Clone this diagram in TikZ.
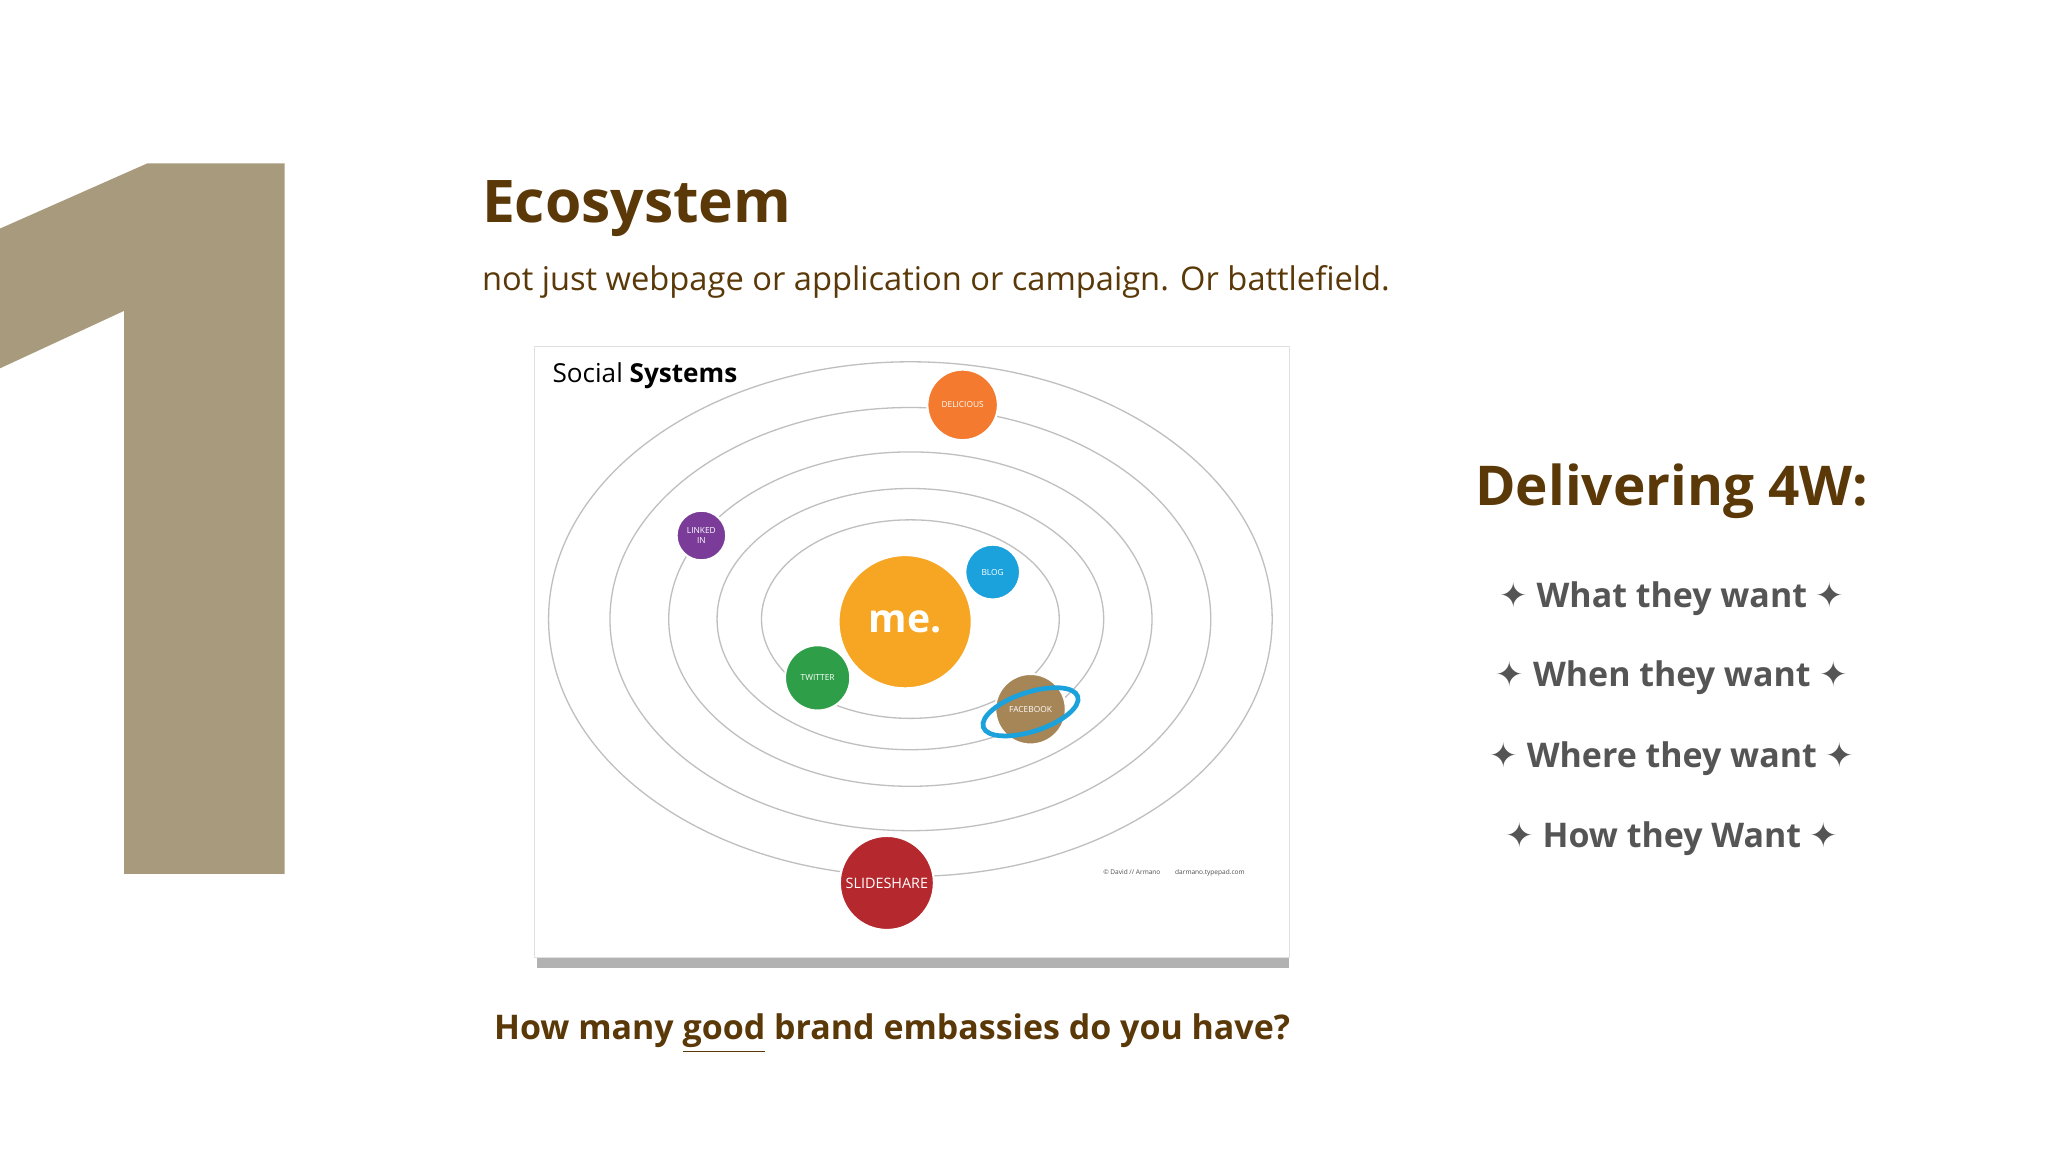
\documentclass[tikz,border=0pt]{standalone}
\usepackage{fontspec}
\setmainfont{Open Sans}
\newfontfamily\symf{DejaVu Sans}
\definecolor{brn}{HTML}{5A3808}
\definecolor{tan}{HTML}{A89A7D}
\definecolor{gry}{HTML}{555555}
\definecolor{cme}{HTML}{F6A623}
\definecolor{cblog}{HTML}{1BA1DB}
\definecolor{cdel}{HTML}{F37A2E}
\definecolor{cli}{HTML}{7A3C98}
\definecolor{ctw}{HTML}{2E9E48}
\definecolor{cfb}{HTML}{A68557}
\definecolor{csl}{HTML}{B5282D}
\tikzset{ring/.style={draw=black!25,line width=0.5pt},
 planet/.style={circle,draw=white,line width=0.8pt,text=white,inner sep=0pt,font=\fontsize{3.2}{3.6}\selectfont},
 item/.style={text=gry,font=\fontsize{13}{16}\selectfont\bfseries}}
\newcommand{\st}{{\symf ✦}}
\begin{document}
\begin{tikzpicture}[x=0.5pt,y=-0.5pt]
\useasboundingbox (0,0) rectangle (1568,882);
\fill[white] (0,0) rectangle (1568,882);
\fill[tan] (0,175)--(113,125)--(218,125)--(218,669)--(95,669)--(95,238)--(0,282)--cycle;
\node[anchor=west,text=brn,font=\fontsize{22.5}{26}\selectfont\bfseries] (t) at (362,160) {Ecosystem};
\node[anchor=west,text=brn,font=\fontsize{12.5}{15}\selectfont] (s) at (362,216) {not just webpage or application or campaign. Or battlefield.};
% frame
\fill[black!30] (411,731) rectangle (987,741);
\fill[white,draw=black!12] (409,265) rectangle (987,733);
\foreach \a/\b in {277/197,230/162,185/128,148/100,114/76}{\draw[ring] (697,474) ellipse [x radius=\a,y radius=\b];}
\node[anchor=west,font=\fontsize{10}{12}\selectfont] (ss) at (416,288) {Social \textbf{Systems}};
\node[planet,fill=cme,minimum size=51pt,font=\fontsize{15}{18}\selectfont\bfseries] (me) at (693,476) {me.};
\node[planet,fill=cblog,minimum size=21pt] (blog) at (760,438) {BLOG};
\node[planet,fill=cdel,minimum size=27pt] (del) at (737,310) {DELICIOUS};
\node[planet,fill=cli,minimum size=19pt,align=center] (li) at (537,410) {LINKED\\IN};
\node[planet,fill=ctw,minimum size=25pt] (tw) at (626,519) {TWITTER};
\node[planet,fill=cfb,minimum size=27pt] (fb) at (789,543) {FACEBOOK};
\draw[cblog,line width=1.8pt,rotate around={18:(789,545)}] (789,545) ellipse [x radius=38,y radius=15];
\node[planet,fill=csl,minimum size=36pt,font=\fontsize{5.5}{7}\selectfont] (sl) at (679,676) {SLIDESHARE};
\node[anchor=east,font=\fontsize{2.5}{3}\selectfont,text=black!70] (cr) at (960,668) {© David // Armano \quad\quad darmano.typepad.com};
\node[text=brn,font=\fontsize{13}{16}\selectfont\bfseries] (q) at (683,791) {How many \underline{good} brand embassies do you have?};
\node[text=brn,font=\fontsize{21}{26}\selectfont\bfseries] (d) at (1280,376) {Delivering 4W:};
\node[item] (i1) at (1280,458) {\st\ What they want \st};
\node[item] (i2) at (1280,519) {\st\ When they want \st};
\node[item] (i3) at (1280,581) {\st\ Where they want \st};
\node[item] (i4) at (1280,642) {\st\ How they Want \st};
\end{tikzpicture}
\end{document}
